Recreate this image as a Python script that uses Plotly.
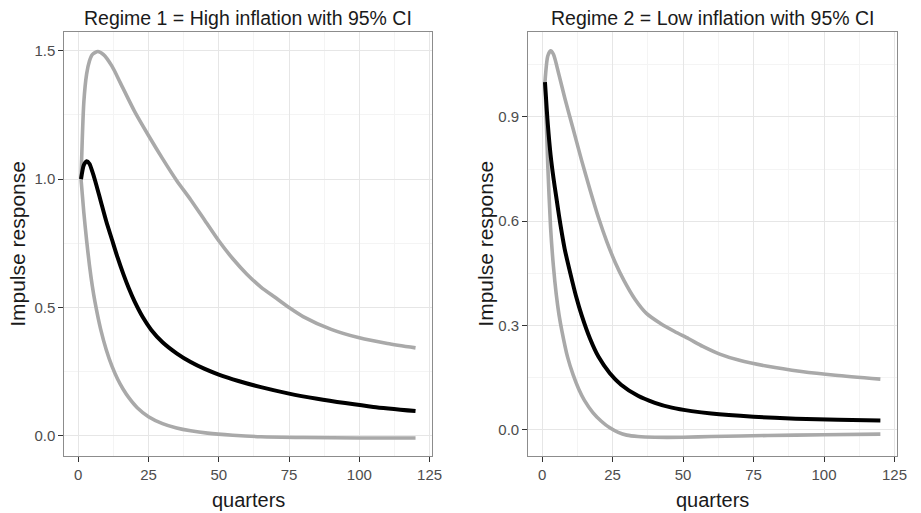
import plotly.graph_objects as go
from plotly.subplots import make_subplots

# ---- Regime 1 (High inflation) ----
r1_mid_q = [1, 2, 3, 4, 5, 6, 8, 10, 12, 14, 16, 18, 20, 23, 26, 30, 35, 40, 45, 50, 57, 65, 75, 85, 95, 105, 120]
r1_mid_v = [1.0, 1.055, 1.07, 1.06, 1.03, 0.995, 0.915, 0.835, 0.765, 0.695, 0.632, 0.575, 0.525, 0.462, 0.413,
            0.365, 0.322, 0.288, 0.261, 0.239, 0.214, 0.19, 0.165, 0.145, 0.128, 0.113, 0.097]

r1_up_q = [1, 2, 3, 4, 5, 7, 9, 12, 15, 20, 25, 30, 35, 40, 45, 50, 55, 60, 65, 70, 75, 80, 90, 100, 110, 120]
r1_up_v = [1.0, 1.30, 1.41, 1.46, 1.485, 1.497, 1.485, 1.44, 1.375, 1.265, 1.17, 1.08, 0.995, 0.92, 0.84, 0.76,
           0.69, 0.63, 0.58, 0.54, 0.50, 0.465, 0.415, 0.382, 0.36, 0.343]

r1_lo_q = [1, 2, 3, 4, 5, 6, 8, 10, 12, 14, 16, 18, 21, 25, 30, 35, 40, 46, 55, 65, 80, 100, 120]
r1_lo_v = [1.0, 0.87, 0.76, 0.665, 0.585, 0.52, 0.415, 0.335, 0.272, 0.222, 0.182, 0.149, 0.11, 0.075, 0.048,
           0.031, 0.02, 0.011, 0.003, -0.003, -0.006, -0.008, -0.008]

# ---- Regime 2 (Low inflation) ----
r2_mid_q = [1, 2, 3, 4, 5, 6, 7, 8, 10, 12, 14, 17, 20, 24, 28, 34, 40, 46, 53, 60, 75, 90, 105, 120]
r2_mid_v = [1.0, 0.88, 0.79, 0.725, 0.67, 0.615, 0.565, 0.52, 0.45, 0.385, 0.33, 0.262, 0.21, 0.163, 0.13, 0.098,
            0.078, 0.064, 0.054, 0.047, 0.038, 0.032, 0.029, 0.027]

r2_up_q = [1, 2, 3, 4, 6, 8, 11, 14, 17, 20, 23, 26, 29, 33, 37, 42, 47, 52, 57, 63, 70, 80, 92, 104, 120]
r2_up_v = [1.0, 1.075, 1.09, 1.08, 1.02, 0.955, 0.865, 0.775, 0.69, 0.61, 0.54, 0.48, 0.43, 0.375, 0.335, 0.306,
           0.283, 0.262, 0.24, 0.218, 0.2, 0.183, 0.168, 0.157, 0.146]

r2_lo_q = [1, 2, 3, 4, 5, 6, 7, 9, 11, 13, 15, 18, 21, 24, 27, 30, 34, 40, 50, 60, 80, 100, 120]
r2_lo_v = [1.0, 0.76, 0.58, 0.47, 0.39, 0.33, 0.285, 0.21, 0.158, 0.117, 0.085, 0.05, 0.025, 0.006, -0.007,
           -0.015, -0.019, -0.021, -0.021, -0.019, -0.016, -0.014, -0.012]

titles = ["Regime 1 = High inflation with 95% CI", "Regime 2 = Low inflation with 95% CI"]
x_ticks = [0, 25, 50, 75, 100, 125]
y1_ticks = [0.0, 0.5, 1.0, 1.5]
y1_labels = ["0.0", "0.5", "1.0", "1.5"]
y2_ticks = [0.0, 0.3, 0.6, 0.9]
y2_labels = ["0.0", "0.3", "0.6", "0.9"]

GRAY = "#a9a9a9"
FONT = "Liberation Sans, Arial, sans-serif"

fig = make_subplots(rows=1, cols=2)

def add(q, v, col, color, width):
    fig.add_trace(go.Scatter(x=q, y=v, mode="lines",
                             line=dict(color=color, width=width, shape="spline", smoothing=0.7),
                             showlegend=False, hoverinfo="skip"), row=1, col=col)

add(r1_up_q, r1_up_v, 1, GRAY, 3.6)
add(r1_lo_q, r1_lo_v, 1, GRAY, 3.6)
add(r1_mid_q, r1_mid_v, 1, "black", 4)
add(r2_up_q, r2_up_v, 2, GRAY, 3.6)
add(r2_lo_q, r2_lo_v, 2, GRAY, 3.6)
add(r2_mid_q, r2_mid_v, 2, "black", 4)

W, H = 921, 513
xdom1 = [65 / W, 437 / W]
xdom2 = [534 / W, 907 / W]
ydom = [57 / H, 481 / H]

axis_common = dict(showline=True, mirror=True, linecolor="#8c8c8c", linewidth=1,
                   ticks="outside", ticklen=5, tickcolor="#333333", tickwidth=1,
                   showgrid=True, gridcolor="#e6e6e6", gridwidth=1, zeroline=False,
                   tickfont=dict(family=FONT, size=15, color="#4d4d4d"))

fig.update_xaxes(**axis_common, tickvals=x_ticks, range=[-4.95, 125.95],
                 minor=dict(showgrid=True, gridcolor="#f4f4f4", dtick=12.5, tick0=12.5))
fig.update_xaxes(domain=xdom1, row=1, col=1)
fig.update_xaxes(domain=xdom2, row=1, col=2)
fig.update_yaxes(**axis_common, domain=ydom)
fig.update_yaxes(tickvals=y1_ticks, ticktext=y1_labels, range=[-0.078, 1.573],
                 minor=dict(showgrid=True, gridcolor="#f4f4f4", dtick=0.25, tick0=0.25), row=1, col=1)
fig.update_yaxes(tickvals=y2_ticks, ticktext=y2_labels, range=[-0.075, 1.144],
                 minor=dict(showgrid=True, gridcolor="#f4f4f4", dtick=0.15, tick0=0.15), row=1, col=2)

ann = []
for t, xc in zip(titles, [(65 + 437) / 2 / W, (534 + 907) / 2 / W]):
    ann.append(dict(text=t, x=xc, y=(H - 18) / H, xref="paper", yref="paper", showarrow=False,
                    xanchor="center", yanchor="middle", font=dict(family=FONT, size=19.5, color="#1a1a1a")))
    ann.append(dict(text="quarters", x=xc, y=(H - 500) / H, xref="paper", yref="paper", showarrow=False,
                    xanchor="center", yanchor="middle", font=dict(family=FONT, size=20, color="#1a1a1a")))
for xp in [17 / W, 490 / W]:
    ann.append(dict(text="Impulse response", x=xp, y=(ydom[0] + ydom[1]) / 2, xref="paper", yref="paper",
                    showarrow=False, textangle=-90, xanchor="center", yanchor="middle",
                    font=dict(family=FONT, size=21, color="#1a1a1a")))

fig.update_layout(width=W, height=H, margin=dict(l=0, r=0, t=0, b=0),
                  paper_bgcolor="white", plot_bgcolor="white", annotations=ann,
                  font=dict(family=FONT))

fig.write_html("out.html")
